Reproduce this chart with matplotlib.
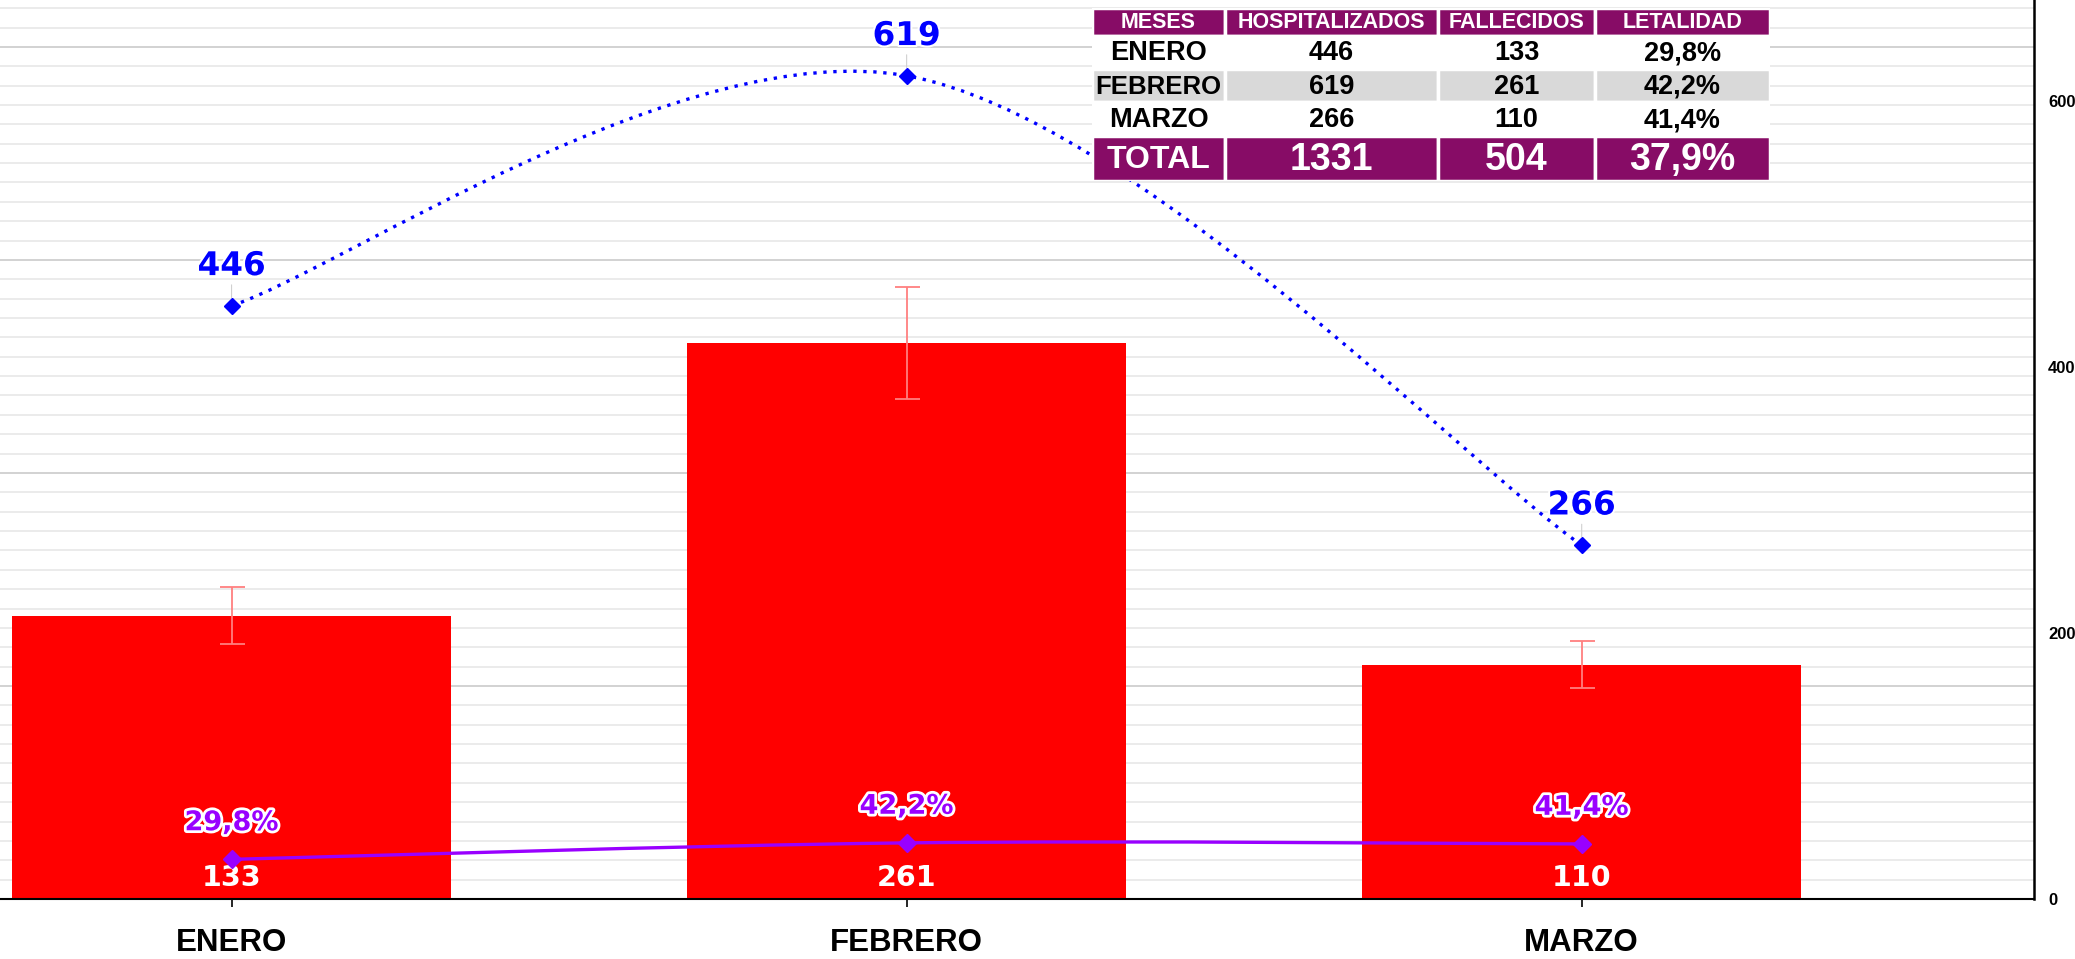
import matplotlib
matplotlib.use("Agg")
import matplotlib.pyplot as plt
import matplotlib.patheffects as pe
from matplotlib.path import Path
from matplotlib.patches import PathPatch, Rectangle
import numpy as np

# datos
meses = ['ENERO', 'FEBRERO', 'MARZO']
hospitalizados = [446, 619, 266]
fallecidos = [133, 261, 110]
letalidad = [29.8, 42.2, 41.4]
total_letalidad = 37.9

def pct(v):
    return f"{v:.1f}".replace('.', ',') + '%'

def smooth_path(xs, ys):
    # curva suavizada tipo Excel (Catmull-Rom -> Bezier)
    pts = np.column_stack([xs, ys]).astype(float)
    n = len(pts)
    verts = [pts[0]]
    codes = [Path.MOVETO]
    for i in range(n - 1):
        p0 = pts[max(i - 1, 0)]
        p1 = pts[i]
        p2 = pts[i + 1]
        p3 = pts[min(i + 2, n - 1)]
        verts += [p1 + (p2 - p0) / 6, p2 - (p3 - p1) / 6, p2]
        codes += [Path.CURVE4] * 3
    return Path(verts, codes)

W, H = 2075, 959
fig = plt.figure(figsize=(W / 100, H / 100), dpi=100)

base_px = 899
right_px = 2034
ax1 = fig.add_axes([0, (H - base_px) / H, right_px / W, base_px / H])
ax2 = ax1.twinx()

x = np.arange(len(meses))
ax1.set_xlim(-0.343, 2.670)
ax1.set_ylim(0, 422)
ax2.set_ylim(0, 676)

# rejilla
ax1.set_yticks(np.arange(0, 422, 100))
ax1.set_yticks(np.arange(0, 422, 100 / 11), minor=True)
ax1.grid(True, which='major', axis='y', color='#D2D2D2', lw=1.4)
ax1.grid(True, which='minor', axis='y', color='#E8E8E8', lw=1.2)
ax1.set_axisbelow(True)
ax1.tick_params(axis='y', which='both', left=False, labelleft=False)

# barras de fallecidos
ax1.bar(x, fallecidos, width=0.65, color='#FF0000', zorder=2,
        yerr=[0.1 * v for v in fallecidos],
        error_kw=dict(ecolor='#FF7F7F', elinewidth=1.3, capsize=9, capthick=1.3, zorder=3))
for xi, v in zip(x, fallecidos):
    ax1.annotate(str(v), (xi, 0), xytext=(0, 15), textcoords='offset points',
                 ha='center', va='center', color='white', fontsize=20.5,
                 fontweight='bold', family='DejaVu Sans', zorder=5)

# hospitalizados (linea punteada suavizada)
ax2.add_patch(PathPatch(smooth_path(x, hospitalizados), fill=False, edgecolor='#0000FF',
                        lw=2.4, linestyle=(0, (1, 2)), zorder=3))
ax2.plot(x, hospitalizados, 'D', color='#0000FF', ms=8.5, zorder=4)
for xi, v in zip(x, hospitalizados):
    ax2.annotate(str(v), (xi, v), xytext=(0, 29), textcoords='offset points',
                 ha='center', va='center', color='#0000FF', fontsize=23.5,
                 fontweight='bold', family='DejaVu Sans',
                 arrowprops=dict(arrowstyle='-', color='#D0D0D0', lw=0.8, shrinkA=0, shrinkB=6),
                 path_effects=[pe.withStroke(linewidth=3, foreground='white')], zorder=6)

# letalidad
ax2.add_patch(PathPatch(smooth_path(x, letalidad), fill=False, edgecolor='#9900FF',
                        lw=2.4, zorder=3))
ax2.plot(x, letalidad, 'D', color='#9900FF', ms=9, zorder=4)
for xi, v in zip(x, letalidad):
    ax2.annotate(pct(v), (xi, v), xytext=(0, 26), textcoords='offset points',
                 ha='center', va='center', color='#9900FF', fontsize=19.5,
                 fontweight='bold', family='DejaVu Sans',
                 path_effects=[pe.withStroke(linewidth=4, foreground='white')], zorder=6)

# ejes
for s in ['top', 'left', 'right']:
    ax1.spines[s].set_visible(False)
ax1.spines['bottom'].set_color('black')
ax1.spines['bottom'].set_linewidth(1.5)
for s in ['top', 'left', 'bottom']:
    ax2.spines[s].set_visible(False)
ax2.spines['right'].set_color('black')
ax2.spines['right'].set_linewidth(1.8)

ax1.set_xticks(x, meses)
ax1.tick_params(axis='x', length=6, width=1.2, color='black', pad=15)
for lab in ax1.get_xticklabels():
    lab.set_fontsize(22.5)
    lab.set_fontweight('bold')
    lab.set_family('Liberation Sans')

ax2.set_yticks([0, 200, 400, 600])
ax2.tick_params(axis='y', length=0, pad=10)
for lab in ax2.get_yticklabels():
    lab.set_fontsize(12)
    lab.set_fontweight('bold')
    lab.set_family('Liberation Sans')

# tabla resumen
cols = [1092, 1225, 1438, 1595, 1770]
rows = [8, 36, 69, 102, 136, 181]
tab = fig.add_axes([cols[0] / W, 1 - rows[-1] / H, (cols[-1] - cols[0]) / W, (rows[-1] - rows[0]) / H])
tab.set_xlim(cols[0], cols[-1])
tab.set_ylim(rows[-1], rows[0])
tab.axis('off')

purple = '#870C66'
header = ['MESES', 'HOSPITALIZADOS', 'FALLECIDOS', 'LETALIDAD']
body = [[m, str(h), str(f), pct(l)] for m, h, f, l in zip(meses, hospitalizados, fallecidos, letalidad)]
total = ['TOTAL', str(sum(hospitalizados)), str(sum(fallecidos)), pct(total_letalidad)]
table_rows = [header] + body + [total]
bgs = [purple, 'white', '#D9D9D9', 'white', purple]
fg = ['white', 'black', 'black', 'black', 'white']
sizes = [15.5, 19.5, 19.5, 19.5, 27]

for r, vals in enumerate(table_rows):
    for c, val in enumerate(vals):
        x0, x1_ = cols[c], cols[c + 1]
        y0, y1_ = rows[r], rows[r + 1]
        tab.add_patch(Rectangle((x0, y0), x1_ - x0, y1_ - y0, facecolor=bgs[r],
                                edgecolor='white', lw=2.5))
        fs = sizes[r]
        if r == 2 and c == 0:
            fs = 18.5
        if r == 4 and c == 0:
            fs = 23
        tab.text((x0 + x1_) / 2, (y0 + y1_) / 2 + 1, val, ha='center', va='center',
                 color=fg[r], fontsize=fs, fontweight='bold', family='Liberation Sans')

fig.savefig('out.png', dpi=100)
